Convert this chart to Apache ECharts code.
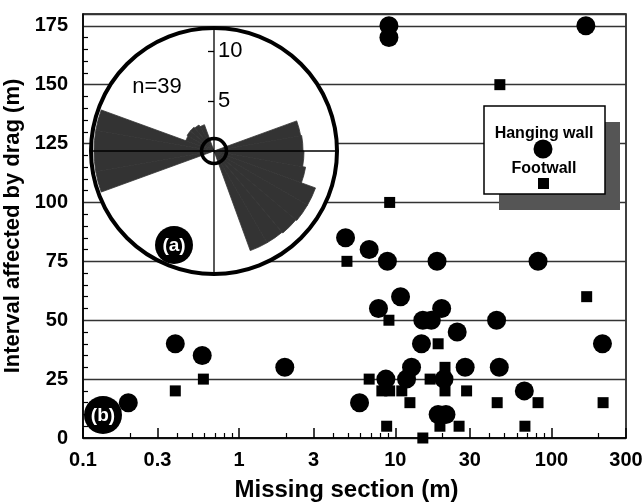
<!DOCTYPE html>
<html>
<head>
<meta charset="utf-8">
<script src="https://cdn.jsdelivr.net/npm/echarts@6/dist/echarts.min.js"></script>
<style>
html, body { margin: 0; padding: 0; background: #fff; }
#chart { width: 643px; height: 503px; }
</style>
</head>
<body>
<div id="chart"></div>
<script>
// [missing section (m), interval affected by drag (m)]
var hangingWall = [
    [9.1, 175], [9.1, 170], [166, 175], [4.8, 85], [6.8, 80], [8.9, 75],
    [18.5, 75], [82, 75], [10.8, 60], [7.8, 55], [19.8, 55], [15, 50],
    [17, 50], [44.5, 50], [24.9, 45], [14.7, 40], [212, 40], [0.39, 40],
    [0.58, 35], [1.96, 30], [12.7, 30], [28, 30], [46.3, 30], [8.7, 25],
    [11.8, 25], [20.5, 25], [67, 20], [0.195, 15], [5.9, 15], [18.8, 10],
    [21.1, 10]
];
var footwall = [
    [46.7, 150], [9.2, 100], [4.9, 75], [168, 60], [9.1, 50], [18.8, 40],
    [20.8, 30], [0.59, 25], [6.8, 25], [16.7, 25], [0.39, 20], [8.2, 20],
    [9.2, 20], [11, 20], [20.8, 20], [28.6, 20], [12.4, 15], [44.9, 15],
    [82, 15], [214, 15], [8.8, 5], [19.3, 5], [25.6, 5], [67.6, 5], [15, 0]
];

var xMajorTicks = [0.1, 0.3, 1, 3, 10, 30, 100, 300];
var xMinorTicks = [0.2, 0.4, 0.5, 0.6, 0.7, 0.8, 0.9, 2, 4, 5, 6, 7, 8, 9,
    20, 40, 50, 60, 70, 80, 90, 200];
var yTickLabels = [0, 25, 50, 75, 100, 125, 150, 175];
var yMinorTicks = [5, 10, 15, 20, 30, 35, 40, 45, 55, 60, 65, 70, 80, 85, 90, 95,
    105, 110, 115, 120, 130, 135, 140, 145, 155, 160, 165, 170];

// rose diagram (inset a): 10 degree bins by bearing
var roseBins = ['0', '10', '20', '30', '40', '50', '60', '70', '80', '90', '100', '110',
    '120', '130', '140', '150', '160', '170', '180', '190', '200', '210', '220', '230',
    '240', '250', '260', '270', '280', '290', '300', '310', '320', '330', '340', '350'];
var roseValues = [0, 0, 0, 0, 0, 0, 0, 8.8, 8.9, 9.0, 9.3, 10.8,
    10.8, 10.7, 10.6, 10.6, 0, 0, 0, 0, 0, 0, 0, 0,
    0, 12, 12, 12, 12, 3, 3.1, 3.1, 3, 2.8, 0, 0];
var roseTicks = [5, 10];

var font = "'Liberation Sans', Arial, sans-serif";
var chart = echarts.init(document.getElementById('chart'));

chart.setOption({
    animation: false,
    grid: {
        left: 83, right: 17, top: 14, bottom: 65,
        outerBoundsMode: 'none',
        containLabel: false,
        show: true, borderColor: '#000', borderWidth: 1.5
    },
    xAxis: [{
        type: 'log',
        logBase: 10,
        min: 0.1,
        max: 300,
        position: 'bottom',
        axisLine: { onZero: false, lineStyle: { color: '#000', width: 1.5 } },
        axisTick: { inside: true, length: 10, customValues: xMajorTicks, lineStyle: { color: '#000', width: 1.5 } },
        axisLabel: {
            customValues: xMajorTicks,
            formatter: function (v) { return String(v); },
            color: '#000', fontSize: 20, fontWeight: 'bold', fontFamily: font, margin: 12
        },
        splitLine: { show: false },
        name: 'Missing section (m)',
        nameLocation: 'middle',
        nameGap: 40,
        nameTextStyle: { color: '#000', fontSize: 24, fontWeight: 'bold', fontFamily: font, padding: [0, 16, 0, 0] }
    }, {
        type: 'log',
        logBase: 10,
        min: 0.1,
        max: 300,
        position: 'bottom',
        axisLine: { show: false, onZero: false },
        axisTick: { inside: true, length: 5, customValues: xMinorTicks, lineStyle: { color: '#000', width: 1.2 } },
        axisLabel: { show: false },
        splitLine: { show: false }
    }],
    yAxis: [{
        type: 'value',
        min: 0,
        max: 180,
        interval: 25,
        position: 'left',
        axisLine: { show: true, onZero: false, lineStyle: { color: '#000', width: 1.5 } },
        axisTick: { show: false },
        axisLabel: {
            customValues: yTickLabels,
            color: '#000', fontSize: 20, fontWeight: 'bold', fontFamily: font, margin: 15
        },
        splitLine: { show: true, lineStyle: { color: '#333', width: 1.3 } },
        name: 'Interval affected by drag (m)',
        nameLocation: 'middle',
        nameGap: 52,
        nameTextStyle: { color: '#000', fontSize: 22, fontWeight: 'bold', fontFamily: font }
    }, {
        type: 'value',
        min: 0,
        max: 180,
        position: 'left',
        axisLine: { show: false, onZero: false },
        axisTick: { inside: true, length: 5, customValues: yMinorTicks, lineStyle: { color: '#000', width: 1.2 } },
        axisLabel: { show: false },
        splitLine: { show: false }
    }],
    polar: {
        center: [214, 151],
        radius: 123
    },
    angleAxis: {
        type: 'category',
        data: roseBins,
        startAngle: 90,
        clockwise: true,
        z: 5,
        axisLine: { show: true, lineStyle: { color: '#000', width: 4 } },
        axisTick: { show: false, interval: 8 },
        axisLabel: { show: false },
        splitLine: { show: true, interval: 8, lineStyle: { color: '#000', width: 1.3 } }
    },
    radiusAxis: {
        type: 'value',
        min: 0,
        max: 12.3,
        z: 5,
        axisLine: { show: false },
        axisTick: { show: true, length: 6, customValues: roseTicks, lineStyle: { color: '#000', width: 1.3 } },
        axisLabel: {
            customValues: roseTicks,
            align: 'left',
            margin: -4,
            color: '#000', fontSize: 22, fontFamily: font
        },
        splitLine: { show: false }
    },
    series: [{
        name: 'Rose',
        type: 'bar',
        coordinateSystem: 'polar',
        data: roseValues,
        barCategoryGap: '0%',
        itemStyle: { color: '#333', borderColor: '#333', borderWidth: 0.8 },
        z: 2
    }, {
        name: 'Hanging wall',
        type: 'scatter',
        xAxisIndex: 0,
        yAxisIndex: 0,
        data: hangingWall,
        symbol: 'circle',
        symbolSize: 19,
        itemStyle: { color: '#000', opacity: 1 },
        z: 3
    }, {
        name: 'Footwall',
        type: 'scatter',
        xAxisIndex: 0,
        yAxisIndex: 0,
        data: footwall,
        symbol: 'rect',
        symbolSize: 11,
        itemStyle: { color: '#000', opacity: 1 },
        z: 4
    }],
    graphic: [
        // white face of the rose inset
        { type: 'circle', shape: { cx: 214, cy: 151, r: 123 }, style: { fill: '#fff' }, z: 1 },
        { type: 'circle', shape: { cx: 214, cy: 151, r: 12.5 }, style: { fill: 'rgba(0,0,0,0)', stroke: '#000', lineWidth: 3.5 }, z: 6 },
        { type: 'text', x: 157, y: 87, style: { text: 'n=39', fill: '#000', font: '22px ' + font, align: 'center', verticalAlign: 'middle' }, z: 6 },
        // (a) and (b) badges
        { type: 'circle', shape: { cx: 174, cy: 245, r: 19 }, style: { fill: '#000' }, z: 8 },
        { type: 'text', x: 174, y: 246, style: { text: '(a)', fill: '#fff', font: 'bold 19px ' + font, align: 'center', verticalAlign: 'middle' }, z: 9 },
        { type: 'circle', shape: { cx: 103, cy: 415, r: 19 }, style: { fill: '#000' }, z: 8 },
        { type: 'text', x: 103, y: 416, style: { text: '(b)', fill: '#fff', font: 'bold 19px ' + font, align: 'center', verticalAlign: 'middle' }, z: 9 },
        // legend box with shadow
        { type: 'rect', shape: { x: 499, y: 122, width: 121, height: 88 }, style: { fill: '#555' }, z: 6 },
        { type: 'rect', shape: { x: 484, y: 106, width: 121, height: 88 }, style: { fill: '#fff', stroke: '#000', lineWidth: 1.5 }, z: 7 },
        { type: 'text', x: 544, y: 134, style: { text: 'Hanging wall', fill: '#000', font: 'bold 16px ' + font, align: 'center', verticalAlign: 'middle' }, z: 8 },
        { type: 'circle', shape: { cx: 543, cy: 149, r: 9.5 }, style: { fill: '#000' }, z: 9 },
        { type: 'text', x: 544, y: 169, style: { text: 'Footwall', fill: '#000', font: 'bold 16px ' + font, align: 'center', verticalAlign: 'middle' }, z: 8 },
        { type: 'rect', shape: { x: 538, y: 178, width: 11, height: 11 }, style: { fill: '#000' }, z: 8 }
    ]
});
</script>
</body>
</html>
